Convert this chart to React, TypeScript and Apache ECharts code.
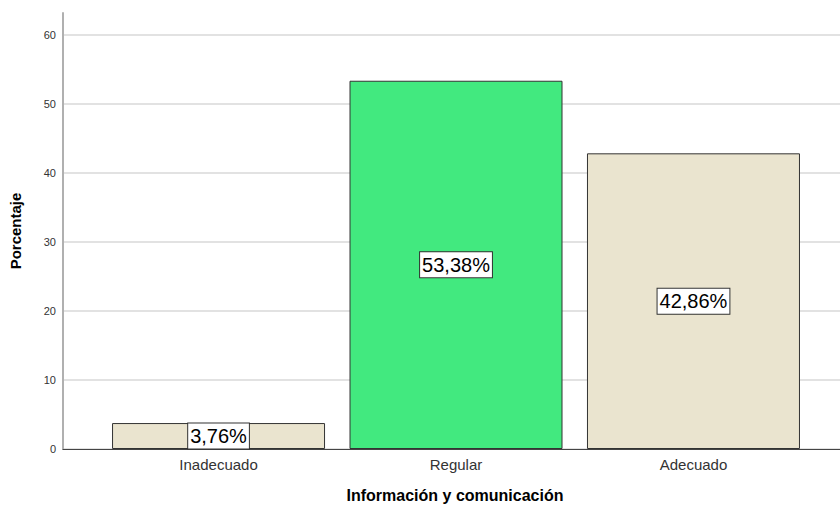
import React, { useEffect, useRef } from "react";
import * as echarts from "echarts";

const categories = ["Inadecuado", "Regular", "Adecuado"];
const values = [3.76, 53.38, 42.86];
const barColors = ["#EAE4CF", "#42E97F", "#EAE4CF"];
const yTicks = [0, 10, 20, 30, 40, 50, 60];
const xTitle = "Información y comunicación";
const yTitle = "Porcentaje";

export default function App() {
  const ref = useRef<HTMLDivElement>(null);
  useEffect(() => {
    if (!ref.current) return;
    const chart = echarts.init(ref.current, null, { renderer: "svg" });
    const font = "'Liberation Sans', Arial, sans-serif";
    chart.setOption({
      animation: false,
      backgroundColor: "#ffffff",
      textStyle: { fontFamily: font },
      grid: { left: 59, right: 0, top: 13, bottom: 57, containLabel: false },
      xAxis: {
        type: "value",
        min: -0.655,
        max: 2.617,
        axisLine: { show: true, onZero: true, lineStyle: { color: "#444", width: 1 } },
        axisTick: { show: false },
        splitLine: { show: false },
        axisLabel: {
          customValues: [0, 1, 2],
          formatter: (v: number) => categories[Math.round(v)] ?? "",
          color: "#333",
          fontSize: 15,
          fontFamily: font,
          margin: 8,
        },
      },
      yAxis: {
        type: "value",
        min: 0,
        max: 63.2,
        name: yTitle,
        nameLocation: "middle",
        nameGap: 40,
        nameRotate: 90,
        nameTextStyle: { fontSize: 15, fontWeight: "bold", color: "#000", fontFamily: font },
        axisLine: { show: true, onZero: false, lineStyle: { color: "#b0b0b0", width: 2 } },
        axisTick: { show: false, customValues: yTicks },
        axisLabel: {
          customValues: yTicks,
          color: "#333",
          fontSize: 11,
          fontFamily: font,
          margin: 7,
        },
        splitLine: { show: true, lineStyle: { color: "#d9d9d9", width: 1.5 } },
      },
      series: [
        {
          type: "bar",
          barWidth: 213,
          data: values.map((v, i) => ({
            value: [i, v],
            itemStyle: { color: barColors[i], borderColor: "#333", borderWidth: 1 },
          })),
          label: {
            show: true,
            position: "inside",
            formatter: (p: any) => p.value[1].toFixed(2).replace(".", ",") + "%",
            color: "#000",
            fontSize: 20,
            fontFamily: font,
            backgroundColor: "#ffffff",
            borderColor: "#333",
            borderWidth: 1,
            padding: [3, 2, 2, 2],
          },
        },
      ],
      graphic: [
        {
          type: "text",
          x: 455,
          y: 495,
          style: {
            text: xTitle,
            fontSize: 16,
            fontWeight: "bold",
            fill: "#000",
            fontFamily: font,
            align: "center",
            verticalAlign: "middle",
          },
        },
      ],
    });
    return () => chart.dispose();
  }, []);
  return (
    <div
      ref={ref}
      style={{ position: "fixed", left: 0, top: 0, width: 840, height: 506 }}
    />
  );
}
